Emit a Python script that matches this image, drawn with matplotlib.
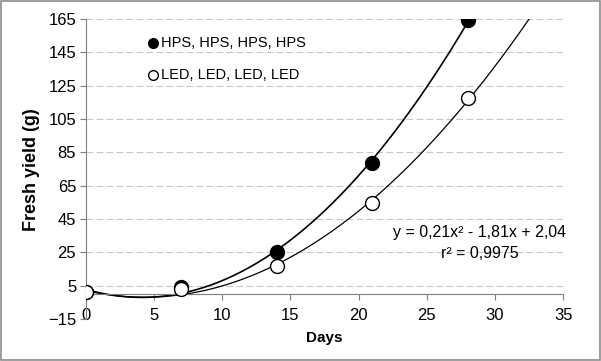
import numpy as np
import matplotlib
matplotlib.use("Agg")
from matplotlib import pyplot as plt
from matplotlib.patches import Rectangle

plt.rcParams['font.family'] = ['Liberation Sans', 'DejaVu Sans']

days = [0, 7, 14, 21, 28]
hps = [1.2, 4.2, 25.2, 78.5, 164.4]
led = [1.2, 2.8, 16.8, 54.6, 117.5]
led_coef = [0.21, -1.81, 2.04]
led_r2 = "0,9975"
yticks = [-15, 5, 25, 45, 65, 85, 105, 125, 145, 165]
xticks = [0, 5, 10, 15, 20, 25, 30, 35]

fig = plt.figure(figsize=(6.01, 3.61), dpi=100)
fig.patches.append(Rectangle((0.002, 0.003), 0.996, 0.994, transform=fig.transFigure,
                             fill=False, edgecolor='#8c8c8c', lw=1.2))
ax = fig.add_axes([0.143, 0.116, 0.794, 0.831])

# trendlines
hps_coef = np.polyfit(days, hps, 2)
xs = np.linspace(0, 28, 200)
ax.plot(xs, np.polyval(hps_coef, xs), color='black', lw=1.2, zorder=2)
xs2 = np.linspace(0, 34, 200)
ax.plot(xs2, np.polyval(led_coef, xs2), color='black', lw=0.9, zorder=2)

ax.plot(days, hps, 'o', color='black', ms=10, zorder=3)
ax.plot(days, led, 'o', mfc='white', mec='black', mew=1.0, ms=10, zorder=3)

ax.set_xlim(0, 35)
ax.set_ylim(-15, 165)
ax.set_yticks(yticks)
ax.set_xticks(xticks)
ax.yaxis.grid(True, color='#c8c8c8', ls=(0, (6, 3)), lw=0.8)
ax.set_axisbelow(True)

for s in ['top', 'right']:
    ax.spines[s].set_visible(False)
ax.spines['bottom'].set_position(('data', 0))
ax.spines['left'].set_color('#7f7f7f')
ax.spines['bottom'].set_color('#7f7f7f')
ax.tick_params(axis='x', direction='out', length=4, color='#7f7f7f', labelsize=12, pad=6)
ax.tick_params(axis='y', direction='out', length=4, color='#7f7f7f', labelsize=12, pad=3)

ax.set_ylabel('Fresh yield (g)', fontsize=13, fontweight='bold', labelpad=6)
fig.text(0.54, 0.063, 'Days', fontsize=11, fontweight='bold', ha='center', va='center')

# legend as text with markers
ax.plot([4.9], [150.5], 'o', color='black', ms=7, clip_on=False)
ax.text(5.5, 150.5, 'HPS, HPS, HPS, HPS', fontsize=10.5, va='center')
ax.plot([4.9], [131.5], 'o', mfc='white', mec='black', ms=7, clip_on=False)
ax.text(5.5, 131.5, 'LED, LED, LED, LED', fontsize=10.5, va='center')

ax.text(28.9, 37, 'y = 0,21x² - 1,81x + 2,04', fontsize=11.5, ha='center', va='center')
ax.text(28.9, 24.5, 'r² = ' + led_r2, fontsize=11.5, ha='center', va='center')

fig.savefig('out.png', dpi=100)
